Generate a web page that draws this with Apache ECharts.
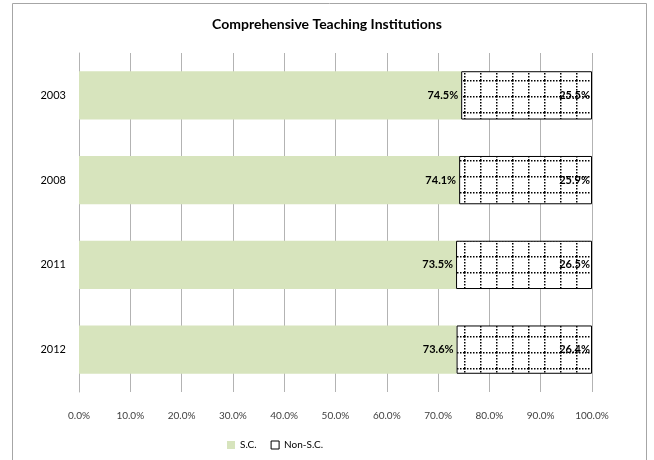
<!DOCTYPE html>
<html>
<head>
<meta charset="utf-8">
<script src="https://cdn.jsdelivr.net/npm/echarts@6/dist/echarts.min.js"></script>
<style>
  html, body { margin: 0; padding: 0; background: #fff; }
  #chart { width: 654px; height: 460px; }
</style>
</head>
<body>
<div id="chart"></div>
<script>
var years = ['2003', '2008', '2011', '2012'];
var scValues = [74.5, 74.1, 73.5, 73.6];
var nonScValues = [25.5, 25.9, 26.5, 26.4];
var xTicks = [0, 10, 20, 30, 40, 50, 60, 70, 80, 90, 100];

// dotted grid pattern for the Non-S.C. bars
var pat = document.createElement('canvas');
pat.width = 16;
pat.height = 16;
var ctx = pat.getContext('2d');
ctx.fillStyle = '#fff';
ctx.fillRect(0, 0, 16, 16);
ctx.fillStyle = '#000';
for (var i = 0; i < 16; i += 3) {
    ctx.fillRect(i, 0, 1.5, 1.5);
    ctx.fillRect(0, i, 1.5, 1.5);
}

var chart = echarts.init(document.getElementById('chart'));
var font = 'Lato, "Liberation Sans", sans-serif';

var option = {
    animation: false,
    textStyle: { fontFamily: font },
    graphic: [{
        type: 'rect',
        shape: { x: 12.5, y: 3.5, width: 634, height: 470 },
        style: { fill: 'none', stroke: '#a6a6a6', lineWidth: 1 },
        silent: true
    }],
    title: {
        text: 'Comprehensive Teaching Institutions',
        left: 'center',
        top: 12,
        textStyle: { fontSize: 14, fontWeight: 'bold', color: '#000', fontFamily: font }
    },
    legend: {
        bottom: 5,
        left: 222,
        itemWidth: 8,
        itemHeight: 8,
        itemGap: 14,
        icon: 'rect',
        textStyle: { fontSize: 10, color: '#000' },
        data: [
            { name: 'S.C.', itemStyle: { color: '#d7e4bd', borderWidth: 0 } },
            { name: 'Non-S.C.', itemStyle: { color: '#fff', borderColor: '#000', borderWidth: 1 } }
        ]
    },
    grid: { left: 79, right: 62, top: 53, bottom: 68 },
    xAxis: {
        type: 'value',
        min: 0,
        max: 100,
        interval: 10,
        axisLine: { show: false },
        axisTick: { show: false },
        splitLine: { lineStyle: { color: '#b3b3b3' } },
        axisLabel: {
            margin: 19,
            fontSize: 10,
            color: '#404040',
            formatter: function (v) { return xTicks.indexOf(v) >= 0 ? v.toFixed(1) + '%' : ''; }
        }
    },
    yAxis: {
        type: 'category',
        inverse: true,
        data: years,
        axisLine: { show: true, lineStyle: { color: '#b3b3b3' } },
        axisTick: { show: false },
        axisLabel: { fontSize: 11, color: '#000', margin: 13 }
    },
    series: [
        {
            name: 'S.C.',
            type: 'bar',
            stack: 'total',
            barCategoryGap: '43%',
            data: scValues,
            itemStyle: { color: '#d7e4bd' },
            label: {
                show: true,
                position: 'insideRight',
                distance: 3,
                fontSize: 11,
                fontWeight: 'bold',
                color: '#000',
                formatter: function (p) { return p.value.toFixed(1) + '%'; }
            }
        },
        {
            name: 'Non-S.C.',
            type: 'bar',
            stack: 'total',
            data: nonScValues,
            itemStyle: {
                color: { image: pat, repeat: 'repeat' },
                borderColor: '#000',
                borderWidth: 1
            },
            label: {
                show: true,
                position: 'insideRight',
                distance: 2,
                fontSize: 11,
                fontWeight: 'bold',
                color: '#000',
                formatter: function (p) { return p.value.toFixed(1) + '%'; }
            }
        }
    ]
};

chart.setOption(option);
</script>
</body>
</html>
